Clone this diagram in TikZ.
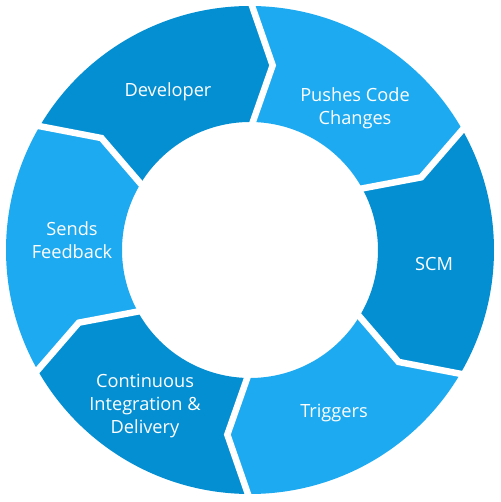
\documentclass[tikz,border=0pt]{standalone}
\usepackage{fontspec}
\setmainfont{Open Sans}
\definecolor{ringdark}{RGB}{4,143,211}
\definecolor{ringlight}{RGB}{29,170,241}
\begin{document}
\begin{tikzpicture}[x=1pt,y=1pt,
  steplabel/.style={text=white,font=\fontsize{18.2}{22.8}\selectfont,align=center,inner sep=0pt},
  gapline/.style={white,line width=6.5pt,line join=miter}]
\useasboundingbox (-250,-252) rectangle (250,250);
% ring geometry: outer radius, inner radius, radius and twist of the chevron tips
\def\Ro{244}\def\Ri{128}\def\Rm{186}\def\tw{7}
% six ring segments, each pointing clockwise into the next
\foreach \s/\c in {150/ringdark,90/ringlight,30/ringdark,-30/ringlight,-90/ringdark,-150/ringlight}{
  \pgfmathsetmacro\e{\s-60}
  \pgfmathsetmacro\et{\e-\tw}
  \pgfmathsetmacro\st{\s-\tw}
  \fill[\c] (\s:\Ro) arc[start angle=\s,end angle=\e,radius=\Ro]
    -- (\et:\Rm) -- (\e:\Ri) arc[start angle=\e,end angle=\s,radius=\Ri]
    -- (\st:\Rm) -- cycle;
}
% white separators between the segments
\foreach \b in {90,30,-30,-90,-150,150}{
  \pgfmathsetmacro\bt{\b-\tw}
  \draw[gapline] (\b:250) -- (\bt:\Rm) -- (\b:120);
}
% step labels
\node[steplabel] (dev) at (-82,158) {Developer};
\node[steplabel] (push) at (105,142) {Pushes Code\\Changes};
\node[steplabel] (scm) at (184,-14) {SCM};
\node[steplabel] (trig) at (84,-163) {Triggers};
\node[steplabel] (cicd) at (-105,-156) {Continuous\\Integration \&\\Delivery};
\node[steplabel] (feed) at (-178,10) {Sends\\Feedback};
\end{tikzpicture}
\end{document}
